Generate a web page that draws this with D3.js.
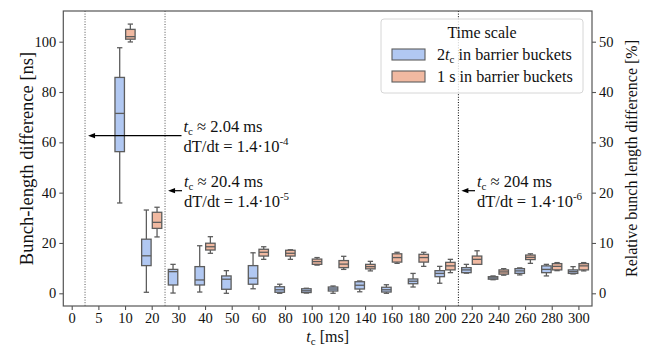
<!DOCTYPE html>
<html>
<head>
<meta charset="utf-8">
<script src="https://cdn.jsdelivr.net/npm/d3@7"></script>
<style>
  body { margin: 0; background: #fff; }
  svg text { font-family: "Liberation Serif", "DejaVu Serif", serif; fill: #111; }
</style>
</head>
<body>
<div id="chart"></div>
<script>
// categories on the x axis (t_c in ms)
const categories = ["0", "5", "10", "20", "30", "40", "50", "60", "80", "100", "120", "140", "160", "180", "200", "220", "240", "260", "280", "300"];

// box stats per category: [whisker low, q1, median, q3, whisker high] in ns
const shortStats = [
    null, null,
    [35.9, 56.3, 71.5, 85.8, 97.6],
    [0.4, 11.0, 14.9, 21.5, 33.1],
    [0.1, 3.3, 8.6, 9.5, 11.5],
    [0.5, 3.3, 5.3, 10.6, 18.9],
    [0.0, 1.6, 5.6, 6.9, 9.0],
    [1.8, 3.6, 6.0, 11.0, 16.1],
    [0.0, 0.4, 1.4, 2.6, 3.6],
    [0.1, 0.3, 1.0, 1.8, 2.0],
    [0.0, 0.9, 1.7, 2.5, 2.9],
    [0.6, 1.7, 3.2, 4.6, 4.9],
    [0.0, 0.5, 1.4, 2.4, 3.4],
    [2.5, 3.8, 4.8, 5.7, 7.9],
    [4.0, 6.6, 7.9, 9.0, 10.7],
    [8.0, 8.2, 9.3, 10.2, 11.5],
    [5.4, 5.6, 6.1, 6.6, 6.9],
    [7.3, 7.9, 8.9, 9.8, 10.1],
    [6.9, 8.2, 9.5, 10.9, 11.5],
    [7.7, 7.9, 8.6, 9.3, 10.6]
];
const longStats = [
    null, null,
    [99.9, 101.0, 102.0, 104.9, 107.0],
    [22.4, 25.8, 28.2, 32.2, 34.2],
    null,
    [15.9, 17.2, 18.5, 19.9, 22.5],
    null,
    [13.5, 14.8, 16.3, 17.5, 18.5],
    [13.5, 14.8, 15.9, 17.1, 17.3],
    [11.2, 11.5, 12.6, 13.6, 14.2],
    [9.5, 10.2, 11.6, 13.0, 14.7],
    [8.9, 9.7, 10.6, 11.5, 12.7],
    [11.9, 12.4, 14.2, 15.7, 16.3],
    [10.7, 12.4, 14.2, 15.5, 16.3],
    [8.2, 9.3, 10.9, 12.3, 13.5],
    [11.5, 11.5, 13.5, 14.8, 16.9],
    [7.2, 7.6, 8.5, 9.3, 9.8],
    [11.9, 13.4, 14.3, 15.2, 15.7],
    [9.0, 9.3, 10.7, 11.8, 12.2],
    [8.9, 9.3, 10.9, 11.8, 12.2]
];

const seriesNames = ["2t_c in barrier buckets", "1 s in barrier buckets"];
const leftTicks = [0, 20, 40, 60, 80, 100];
const rightTicks = [0, 10, 20, 30, 40, 50];

// marker lines (between categories) and their notes
const markerPositions = [0.5, 3.5, 14.5];
const markerTc = ["2.04", "20.4", "204"];
const markerRate = ["-4", "-5", "-6"];

const width = 647, height = 347;
const plot = { left: 63.3, right: 592, top: 11, bottom: 306 };
const blueFill = "#b1c8f2", orangeFill = "#f1b9a1", edge = "#5d5d5d";

const svg = d3.select("#chart").append("svg")
    .attr("width", width)
    .attr("height", height);

const x = d3.scaleLinear().domain([-0.315, 19.51]).range([plot.left, plot.right]);
const y = d3.scaleLinear().domain([-5.05, 112.2]).range([plot.bottom, plot.top]);
const yRight = d3.scaleLinear().domain([-5.05 / 2, 112.2 / 2]).range([plot.bottom, plot.top]);

// dotted marker lines
svg.append("g").selectAll("line")
    .data(markerPositions)
    .join("line")
    .attr("x1", d => x(d)).attr("x2", d => x(d))
    .attr("y1", plot.top).attr("y2", plot.bottom)
    .attr("stroke", (d, i) => i < 2 ? "#555" : "#000")
    .attr("stroke-width", 1)
    .attr("stroke-dasharray", "1,1.6");

// boxes
function drawBoxes(stats, offset, fill) {
    const boxW = x(0.4) - x(0);
    const g = svg.append("g");
    stats.forEach((s, i) => {
        if (!s) return;
        const cx = x(i + offset);
        const capW = boxW / 2;
        const gg = g.append("g").attr("stroke", edge).attr("stroke-width", 1.3).attr("fill", "none");
        gg.append("line").attr("x1", cx).attr("x2", cx).attr("y1", y(s[3])).attr("y2", y(s[4]));
        gg.append("line").attr("x1", cx).attr("x2", cx).attr("y1", y(s[1])).attr("y2", y(s[0]));
        gg.append("line").attr("x1", cx - capW / 2).attr("x2", cx + capW / 2).attr("y1", y(s[4])).attr("y2", y(s[4]));
        gg.append("line").attr("x1", cx - capW / 2).attr("x2", cx + capW / 2).attr("y1", y(s[0])).attr("y2", y(s[0]));
        gg.append("rect")
            .attr("x", cx - boxW / 2 + 0.6)
            .attr("width", boxW - 1.2)
            .attr("y", y(s[3]))
            .attr("height", Math.max(y(s[1]) - y(s[3]), 0.5))
            .attr("fill", fill);
        gg.append("line").attr("x1", cx - boxW / 2 + 0.6).attr("x2", cx + boxW / 2 - 0.6).attr("y1", y(s[2])).attr("y2", y(s[2]));
    });
}
drawBoxes(shortStats, -0.2, blueFill);
drawBoxes(longStats, 0.2, orangeFill);

// frame
svg.append("rect")
    .attr("x", plot.left).attr("y", plot.top)
    .attr("width", plot.right - plot.left).attr("height", plot.bottom - plot.top)
    .attr("fill", "none").attr("stroke", "#555").attr("stroke-width", 1.2);

// axes
const xAxis = svg.append("g")
    .attr("transform", `translate(0,${plot.bottom})`)
    .call(d3.axisBottom(x).tickValues(d3.range(categories.length)).tickFormat(i => categories[i]).tickSize(4).tickPadding(3));
const yAxis = svg.append("g")
    .attr("transform", `translate(${plot.left},0)`)
    .call(d3.axisLeft(y).tickValues(leftTicks).tickSize(4).tickPadding(3));
const yAxisR = svg.append("g")
    .attr("transform", `translate(${plot.right},0)`)
    .call(d3.axisRight(yRight).tickValues(rightTicks).tickSize(4).tickPadding(3));
[xAxis, yAxis, yAxisR].forEach(a => {
    a.select(".domain").remove();
    a.selectAll(".tick line").attr("stroke", "#555").attr("stroke-width", 1.1);
    a.selectAll(".tick text").attr("font-size", 14.5).attr("font-family", "Liberation Serif").attr("fill", "#111");
});

// axis labels
const xl = svg.append("text")
    .attr("x", (plot.left + plot.right) / 2).attr("y", 342)
    .attr("text-anchor", "middle").attr("font-size", 16);
xl.append("tspan").attr("font-style", "italic").text("t");
xl.append("tspan").attr("font-size", 11).attr("dy", 3).text("c");
xl.append("tspan").attr("dy", -3).text(" [ms]");

svg.append("text")
    .attr("transform", `translate(33,${(plot.top + plot.bottom) / 2}) rotate(-90)`)
    .attr("text-anchor", "middle").attr("font-size", 18.5)
    .text("Bunch-length difference [ns]");

svg.append("text")
    .attr("transform", `translate(637,${(plot.top + plot.bottom) / 2}) rotate(-90)`)
    .attr("text-anchor", "middle").attr("font-size", 16)
    .text("Relative bunch length difference [%]");

// annotations with arrows
const notes = [
    { pos: 0.5, from: 181.5, yArrow: 135.7, yText: 126.7 },
    { pos: 3.5, from: 182, yArrow: 190.7, yText: 181.7 },
    { pos: 14.5, from: 475, yArrow: 190.7, yText: 181.7 }
];
notes.forEach((n, k) => {
    const tip = x(n.pos) + 3;
    svg.append("line")
        .attr("x1", n.from).attr("x2", tip + 5)
        .attr("y1", n.yArrow).attr("y2", n.yArrow)
        .attr("stroke", "#000").attr("stroke-width", 1.2);
    svg.append("path")
        .attr("d", `M${tip},${n.yArrow} L${tip + 7},${n.yArrow - 2.6} L${tip + 7},${n.yArrow + 2.6} Z`)
        .attr("fill", "#000");
    const tx = n.from + 2;
    const t1 = svg.append("text").attr("x", tx).attr("y", n.yText + 5.5).attr("font-size", 16.5);
    t1.append("tspan").attr("font-style", "italic").text("t");
    t1.append("tspan").attr("font-size", 11).attr("dy", 3).text("c");
    t1.append("tspan").attr("dy", -3).text(" ≈ " + markerTc[k] + " ms");
    const t2 = svg.append("text").attr("x", tx).attr("y", n.yText + 25.5).attr("font-size", 16.5);
    t2.append("tspan").text("dT/dt = 1.4·10");
    t2.append("tspan").attr("font-size", 11).attr("dy", -7).text(markerRate[k]);
});

// legend
const lg = svg.append("g").attr("transform", "translate(381,19)");
lg.append("rect")
    .attr("width", 202).attr("height", 74).attr("rx", 3)
    .attr("fill", "#fff").attr("fill-opacity", 0.8)
    .attr("stroke", "#d6d6d6").attr("stroke-width", 1);
lg.append("text").attr("x", 101).attr("y", 19).attr("text-anchor", "middle")
    .attr("font-size", 16).text("Time scale");
[blueFill, orangeFill].forEach((c, k) => {
    const yy = 30 + k * 22;
    lg.append("rect").attr("x", 11).attr("y", yy).attr("width", 33).attr("height", 11)
        .attr("fill", c).attr("stroke", edge).attr("stroke-width", 1.1);
    const t = lg.append("text").attr("x", 56).attr("y", yy + 10.5).attr("font-size", 16.2);
    if (k === 0) {
        t.append("tspan").text("2");
        t.append("tspan").attr("font-style", "italic").text("t");
        t.append("tspan").attr("font-size", 11).attr("dy", 3).text("c");
        t.append("tspan").attr("dy", -3).text(" in barrier buckets");
    } else {
        t.text(seriesNames[1]);
    }
});
</script>
</body>
</html>
